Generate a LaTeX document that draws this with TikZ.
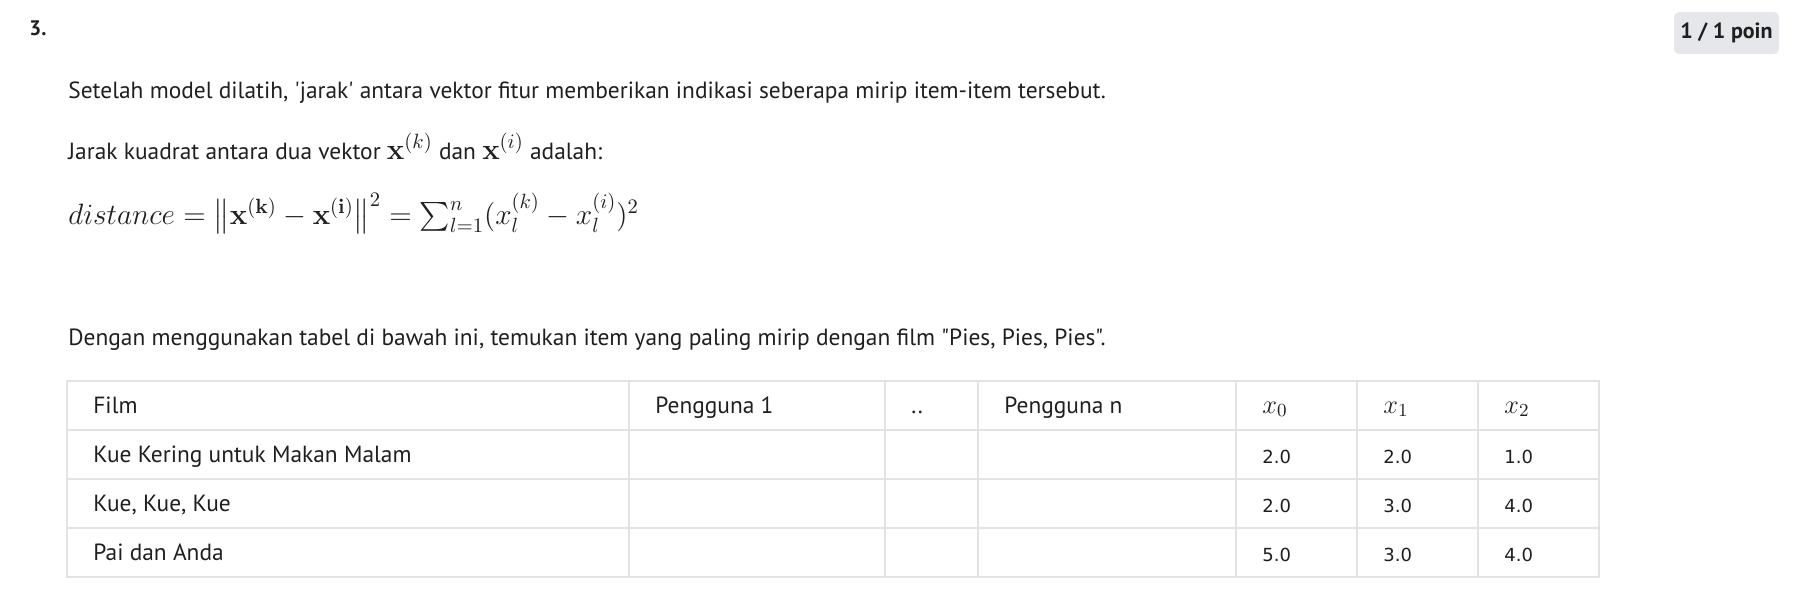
\RequirePackage{fix-cm}
\documentclass[tikz,border=0pt]{standalone}
\usepackage{amsmath}
\usepackage[no-math]{fontspec}
\setmainfont{PT Sans}[Ligatures=TeXOff]
\newfontfamily\numfont{DejaVu Sans}
\definecolor{ink}{HTML}{1F1F1F}
\definecolor{rulegray}{HTML}{E3E3E3}
\definecolor{badgegray}{HTML}{E5E7EA}
\newcommand{\mth}[1]{{\fontsize{14.7}{17}\selectfont$#1$}}
\newcommand{\cellmth}[1]{{\fontsize{13.2}{16}\selectfont$#1$}}

\begin{document}
\begin{tikzpicture}[x=0.5pt,y=-0.5pt,
  txt/.style={anchor=base west,inner sep=0pt,text=ink,font=\fontsize{11.7}{14}\selectfont},
  num/.style={anchor=base west,inner sep=0pt,text=ink,font=\numfont\fontsize{9}{11}\selectfont},
  grid/.style={draw=rulegray,line width=0.75pt}]
  \useasboundingbox (0,0) rectangle (1804,591);
  % header
  \node[txt,font=\bfseries\fontsize{10.5}{12}\selectfont] (qnum) at (29,35) {3.};
  \node[fill=badgegray,rounded corners=2.5pt,minimum width=52.5pt,minimum height=21pt,
        inner sep=0pt,text=ink,font=\bfseries\fontsize{11}{12}\selectfont] (score) at (1726.5,33) {1 / 1 poin};
  % question text
  \node[txt] (intro) at (68,98.7) {Setelah model dilatih, 'jarak' antara vektor fitur memberikan indikasi seberapa mirip item-item tersebut.};
  \node[txt] (defn) at (68,159.3) {Jarak kuadrat antara dua vektor \mth{\mathbf{x}^{(k)}} dan \mth{\mathbf{x}^{(i)}} adalah:};
  \node[anchor=base west,inner sep=0pt,text=ink] (dist) at (68,224)
    {\mth{distance = \bigl\|\mathbf{x^{(k)}} - \mathbf{x^{(i)}}\bigr\|^2 = \sum_{l=1}^{n}(x_l^{(k)} - x_l^{(i)})^2}};
  \node[txt] (task) at (68,345) {Dengan menggunakan tabel di bawah ini, temukan item yang paling mirip dengan film "Pies, Pies, Pies".};
  % table
  \draw[grid] (67,381) rectangle (1599,577);
  \foreach \y in {430,479,528} \draw[grid] (67,\y) -- (1599,\y);
  \foreach \x in {629,885,978,1236,1357,1478} \draw[grid] (\x,381) -- (\x,577);
  \node[txt] (film) at (93,413) {Film};
  \node[txt] (userone) at (655,413) {Pengguna 1};
  \node[txt] (userdots) at (911,413) {..};
  \node[txt] (usern) at (1004,413) {Pengguna n};
  \node[txt] (xzero) at (1262,413) {\cellmth{x_0}};
  \node[txt] (xone) at (1383,413) {\cellmth{x_1}};
  \node[txt] (xtwo) at (1504,413) {\cellmth{x_2}};
  % rows
  \node[txt] (cookies) at (93,462) {Kue Kering untuk Makan Malam};
  \node[num] (cookiesa) at (1262,463.5) {2.0};
  \node[num] (cookiesb) at (1383,463.5) {2.0};
  \node[num] (cookiesc) at (1504,463.5) {1.0};
  \node[txt] (cakes) at (93,511) {Kue, Kue, Kue};
  \node[num] (cakesa) at (1262,512.5) {2.0};
  \node[num] (cakesb) at (1383,512.5) {3.0};
  \node[num] (cakesc) at (1504,512.5) {4.0};
  \node[txt] (pies) at (93,560) {Pai dan Anda};
  \node[num] (piesa) at (1262,561.5) {5.0};
  \node[num] (piesb) at (1383,561.5) {3.0};
  \node[num] (piesc) at (1504,561.5) {4.0};
\end{tikzpicture}
\end{document}
